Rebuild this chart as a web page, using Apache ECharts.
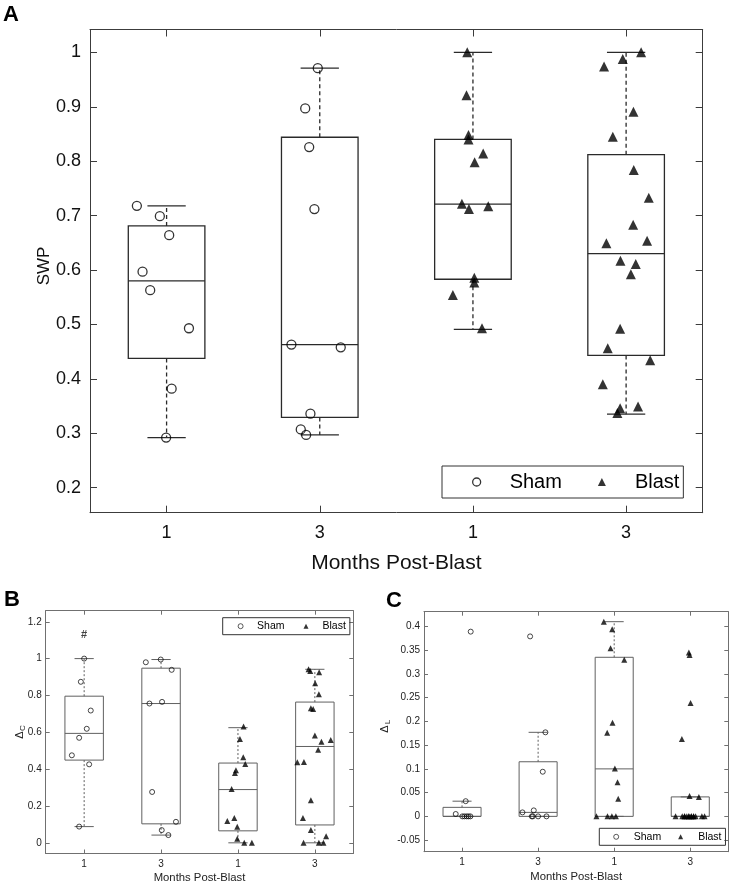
<!DOCTYPE html>
<html>
<head>
<meta charset="utf-8">
<script src="https://cdn.jsdelivr.net/npm/echarts@6/dist/echarts.min.js"></script>
<style>
  html, body { margin: 0; padding: 0; background: #fff; }
  #chart { width: 731px; height: 884px; }
</style>
</head>
<body>
<div id="chart"></div>
<script>
const FONT = 'Liberation Sans, Arial, Helvetica, sans-serif';

// group positions on the x axis and their labels
const groupPos = [1, 2, 3, 4];
const groupLabels = ['1', '3', '1', '3'];

// ---- panel A: SWP ----
const swpTicks = [0.2, 0.3, 0.4, 0.5, 0.6, 0.7, 0.8, 0.9, 1.0];
// [x, lowWhisker, q1, median, q3, highWhisker]
const swpBoxes = [
    [1, 0.292, 0.4375, 0.580, 0.681, 0.718],
    [2, 0.297, 0.329, 0.463, 0.844, 0.971],
    [3, 0.491, 0.583, 0.721, 0.840, 1.0],
    [4, 0.335, 0.443, 0.630, 0.812, 1.0]
];
const swpSham = [
    [0.806, 0.718], [0.956, 0.699], [1.017, 0.664], [0.843, 0.597], [0.893, 0.563],
    [1.146, 0.493], [1.033, 0.382], [0.997, 0.292],
    [1.987, 0.971], [1.905, 0.897], [1.931, 0.826], [1.965, 0.712], [1.815, 0.463],
    [2.137, 0.458], [1.939, 0.336], [1.876, 0.307], [1.911, 0.297]
];
const swpBlast = [
    [2.963, 1.0], [2.958, 0.921], [2.971, 0.848], [2.971, 0.840], [3.067, 0.814],
    [3.011, 0.798], [2.928, 0.722], [2.974, 0.712], [3.1, 0.717], [3.009, 0.586],
    [3.009, 0.577], [2.869, 0.554], [3.059, 0.493],
    [4.098, 1.0], [3.978, 0.988], [3.856, 0.974], [4.048, 0.891], [3.913, 0.845],
    [4.05, 0.784], [4.148, 0.733], [4.046, 0.683], [3.871, 0.649], [4.137, 0.654],
    [3.963, 0.617], [4.063, 0.611], [4.031, 0.592], [3.961, 0.492], [3.88, 0.456],
    [4.157, 0.434], [3.848, 0.390], [3.961, 0.346], [4.078, 0.349], [3.943, 0.337]
];

// ---- panel B: delta C ----
const dcTicks = [0, 0.2, 0.4, 0.6, 0.8, 1.0, 1.2];
const dcBoxes = [
    [1, 0.088, 0.449, 0.594, 0.796, 1.0],
    [2, 0.042, 0.103, 0.756, 0.948, 0.995],
    [3, 0, 0.065, 0.289, 0.433, 0.625],
    [4, 0, 0.097, 0.523, 0.764, 0.942]
];
const dcSham = [
    [1.0, 1.0], [0.957, 0.874], [1.086, 0.718], [1.034, 0.619], [0.935, 0.570],
    [0.84, 0.475], [1.065, 0.426], [0.935, 0.088],
    [1.996, 0.995], [1.802, 0.980], [2.138, 0.939], [1.849, 0.756], [2.013, 0.765],
    [1.884, 0.276], [2.194, 0.114], [2.009, 0.069], [2.095, 0.042]
];
const dcBlast = [
    [3.073, 0.632], [3.026, 0.563], [3.069, 0.464], [3.095, 0.428], [2.974, 0.394],
    [2.961, 0.379], [2.918, 0.292], [2.862, 0.119], [2.953, 0.135], [2.991, 0.087],
    [2.991, 0.022], [3.082, 0], [3.181, 0],
    [3.918, 0.942], [3.94, 0.933], [4.056, 0.926], [4.004, 0.866], [4.052, 0.807],
    [3.948, 0.731], [3.978, 0.726], [4.0, 0.583], [4.086, 0.549], [4.207, 0.558],
    [4.043, 0.505], [3.772, 0.437], [3.858, 0.439], [3.948, 0.231], [3.845, 0.135],
    [3.948, 0.069], [4.147, 0.036], [3.853, 0], [4.052, 0], [4.112, 0]
];
const dcNote = [[1, 1.13, '#']];

// ---- panel C: delta L ----
const dlTicks = [-0.05, 0, 0.05, 0.1, 0.15, 0.2, 0.25, 0.3, 0.35, 0.4];
const dlBoxes = [
    [1, 0, 0, 0, 0.019, 0.032],
    [2, 0, 0, 0.0084, 0.115, 0.177],
    [3, 0, 0, 0.100, 0.335, 0.41],
    [4, 0, 0, 0, 0.041, 0.041]
];
const dlSham = [
    [1.114, 0.389], [1.048, 0.032], [0.917, 0.005], [1.004, 0], [1.031, 0],
    [1.061, 0], [1.085, 0], [1.11, 0],
    [1.895, 0.379], [2.096, 0.177], [2.061, 0.094], [1.794, 0.0084], [1.943, 0.0126],
    [1.917, 0], [2.0, 0], [2.11, 0], [1.93, 0]
];
const dlBlast = [
    [2.864, 0.41], [2.974, 0.394], [2.952, 0.354], [3.132, 0.330], [2.978, 0.197],
    [2.908, 0.176], [3.009, 0.101], [3.044, 0.072], [3.053, 0.037], [2.767, 0],
    [2.912, 0], [2.97, 0], [3.022, 0],
    [3.982, 0.345], [3.991, 0.340], [4.004, 0.239], [3.89, 0.163], [3.991, 0.043],
    [4.113, 0.041], [3.807, 0], [3.895, 0], [3.925, 0], [3.955, 0], [3.982, 0],
    [4.013, 0], [4.043, 0], [4.07, 0], [4.153, 0], [4.188, 0], [3.925, 0],
    [3.982, 0], [4.013, 0], [4.043, 0]
];

const fmtNum = (v) => String(+v.toFixed(2));

// panel look
const panels = [
    { grid: { left: 90, top: 29.5, width: 612.7, height: 483.2 }, yMin: 0.154, yMax: 1.042, yTicks: swpTicks,
      frame: '#3c3c3c', text: '#111', font: 18, tick: 7, xMargin: 11, yMargin: 9,
      boxColor: '#2a2a2a', boxLw: 1.3, dash: [4, 3], circle: 9, tri: 10, mLw: 1.3 },
    { grid: { left: 45.7, top: 610.7, width: 307.6, height: 242.8 }, yMin: -0.058, yMax: 1.26, yTicks: dcTicks,
      frame: '#707070', text: '#222', font: 10, tick: 4, xMargin: 6, yMargin: 4,
      boxColor: '#606060', boxLw: 1, dash: [2, 2], circle: 5, tri: 6, mLw: 0.9 },
    { grid: { left: 424, top: 611.7, width: 304.3, height: 240 }, yMin: -0.0744, yMax: 0.431, yTicks: dlTicks,
      frame: '#707070', text: '#222', font: 10, tick: 4, xMargin: 6, yMargin: 4,
      boxColor: '#606060', boxLw: 1, dash: [2, 2], circle: 5, tri: 6, mLw: 0.9 }
];

const grids = [];
const xAxes = [];
const yAxes = [];
panels.forEach((p, i) => {
    grids.push(Object.assign({ show: false }, p.grid));
    const line = { show: true, onZero: false, lineStyle: { color: p.frame, width: 1 } };
    const xTick = { show: true, inside: true, length: p.tick, customValues: groupPos, lineStyle: { color: p.frame } };
    const yTick = { show: true, inside: true, length: p.tick, customValues: p.yTicks, lineStyle: { color: p.frame } };
    xAxes.push({
        type: 'value', gridIndex: i, position: 'bottom', min: 0.5, max: 4.5,
        axisLine: line, axisTick: xTick, splitLine: { show: false },
        axisLabel: {
            customValues: groupPos, margin: p.xMargin, color: p.text, fontSize: p.font, fontFamily: FONT,
            formatter: (v) => groupLabels[Math.round(v) - 1]
        }
    });
    xAxes.push({
        type: 'value', gridIndex: i, position: 'top', min: 0.5, max: 4.5,
        axisLine: line, axisTick: xTick, splitLine: { show: false }, axisLabel: { show: false }
    });
    yAxes.push({
        type: 'value', gridIndex: i, position: 'left', min: p.yMin, max: p.yMax,
        axisLine: line, axisTick: yTick, splitLine: { show: false },
        axisLabel: {
            customValues: p.yTicks, margin: p.yMargin, color: p.text, fontSize: p.font, fontFamily: FONT,
            formatter: fmtNum
        }
    });
    yAxes.push({
        type: 'value', gridIndex: i, position: 'right', min: p.yMin, max: p.yMax,
        axisLine: line, axisTick: yTick, splitLine: { show: false }, axisLabel: { show: false }
    });
});

const boxSeries = (boxes, i) => {
    const p = panels[i];
    return {
        type: 'custom',
        xAxisIndex: i * 2,
        yAxisIndex: i * 2,
        silent: true,
        z: 2,
        data: boxes,
        renderItem: (params, api) => {
            const x = api.value(0);
            const lo = api.coord([x, api.value(1)]);
            const q1 = api.coord([x, api.value(2)]);
            const md = api.coord([x, api.value(3)]);
            const q3 = api.coord([x, api.value(4)]);
            const hi = api.coord([x, api.value(5)]);
            const hw = api.size([0.25, 0])[0];
            const cw = hw / 2;
            const cx = lo[0];
            const st = { stroke: p.boxColor, lineWidth: p.boxLw, fill: null };
            const dashed = { stroke: p.boxColor, lineWidth: p.boxLw, lineDash: p.dash };
            return {
                type: 'group',
                children: [
                    { type: 'line', shape: { x1: cx, y1: q3[1], x2: cx, y2: hi[1] }, style: dashed },
                    { type: 'line', shape: { x1: cx, y1: q1[1], x2: cx, y2: lo[1] }, style: dashed },
                    { type: 'line', shape: { x1: cx - cw, y1: hi[1], x2: cx + cw, y2: hi[1] }, style: st },
                    { type: 'line', shape: { x1: cx - cw, y1: lo[1], x2: cx + cw, y2: lo[1] }, style: st },
                    { type: 'rect', shape: { x: cx - hw, y: q3[1], width: hw * 2, height: q1[1] - q3[1] }, style: st },
                    { type: 'line', shape: { x1: cx - hw, y1: md[1], x2: cx + hw, y2: md[1] }, style: st }
                ]
            };
        }
    };
};

const pointSeries = (name, pts, i) => {
    const p = panels[i];
    const sham = name === 'Sham';
    return {
        type: 'scatter',
        name: name,
        xAxisIndex: i * 2,
        yAxisIndex: i * 2,
        z: 3,
        symbol: sham ? 'circle' : 'triangle',
        symbolSize: sham ? p.circle : p.tri,
        itemStyle: sham
            ? { color: 'transparent', borderColor: '#000', borderWidth: p.mLw }
            : { color: '#000', borderWidth: 0 },
        data: pts
    };
};

const legendFor = (box, font, lh, padV, padL, textPad, gap, icon, iconLw) => ({
    left: box[0],
    top: box[1],
    orient: 'horizontal',
    selectedMode: false,
    borderColor: '#333',
    borderWidth: 1,
    borderRadius: 0,
    padding: [padV, 4, padV, padL],
    itemGap: gap,
    itemWidth: icon,
    itemHeight: icon,
    itemStyle: { borderWidth: iconLw },
    textStyle: { fontSize: font, fontFamily: FONT, color: '#000', lineHeight: lh, padding: [0, 0, 0, textPad] },
    data: ['Sham', 'Blast']
});

const chart = echarts.init(document.getElementById('chart'), null, { renderer: 'canvas' });

const titleText = (x, y, text, size, opts) => ({
    type: 'text',
    x: x,
    y: y,
    rotation: (opts && opts.rotation) || 0,
    style: Object.assign({
        text: text, fontSize: size, fontFamily: FONT, fill: '#000',
        align: 'center', verticalAlign: 'middle'
    }, opts && opts.style)
});

const deltaLabel = (x, y, sub) => ({
    type: 'group',
    x: x,
    y: y,
    rotation: Math.PI / 2,
    children: [
        { type: 'text', x: -2, y: 0, style: { text: 'Δ', fontSize: 11, fontFamily: FONT, fill: '#222', align: 'center', verticalAlign: 'middle' } },
        { type: 'text', x: 5, y: 3, style: { text: sub, fontSize: 8, fontFamily: FONT, fill: '#222', align: 'center', verticalAlign: 'middle' } }
    ]
});

chart.setOption({
    animation: false,
    backgroundColor: '#fff',
    grid: grids,
    xAxis: xAxes,
    yAxis: yAxes,
    legend: [
        legendFor([442, 466], 20, 22, 5, 30, 24, 36, 8, 1.3),
        legendFor([222.7, 617.7], 10.5, 12, 2.5, 15, 9, 19, 5, 0.8),
        legendFor([599.3, 828.3], 10.5, 12, 2.5, 14, 10, 17, 5, 0.8)
    ],
    graphic: [
        titleText(11, 15, 'A', 22, { style: { fontWeight: 'bold' } }),
        titleText(12, 600, 'B', 22, { style: { fontWeight: 'bold' } }),
        titleText(394, 601, 'C', 22, { style: { fontWeight: 'bold' } }),
        titleText(44, 266, 'SWP', 17, { rotation: Math.PI / 2, style: { fill: '#111' } }),
        titleText(396.4, 563, 'Months Post-Blast', 21, { style: { fill: '#111' } }),
        titleText(199.5, 877.5, 'Months Post-Blast', 11.3, { style: { fill: '#222' } }),
        titleText(576.2, 876.5, 'Months Post-Blast', 11.3, { style: { fill: '#222' } }),
        deltaLabel(20, 733, 'C'),
        deltaLabel(385, 727, 'L')
    ],
    series: [
        boxSeries(swpBoxes, 0),
        pointSeries('Sham', swpSham, 0),
        pointSeries('Blast', swpBlast, 0),
        boxSeries(dcBoxes, 1),
        pointSeries('Sham', dcSham, 1),
        pointSeries('Blast', dcBlast, 1),
        {
            type: 'scatter',
            xAxisIndex: 2,
            yAxisIndex: 2,
            symbol: 'circle',
            symbolSize: 1,
            itemStyle: { color: 'transparent' },
            silent: true,
            z: 4,
            data: dcNote,
            label: {
                show: true, position: 'inside', formatter: (d) => d.value[2],
                fontSize: 11, fontWeight: 'bold', fontFamily: FONT, color: '#111',
                textBorderWidth: 0
            }
        },
        boxSeries(dlBoxes, 2),
        pointSeries('Sham', dlSham, 2),
        pointSeries('Blast', dlBlast, 2)
    ]
});

window.addEventListener('resize', () => chart.resize());
</script>
</body>
</html>
